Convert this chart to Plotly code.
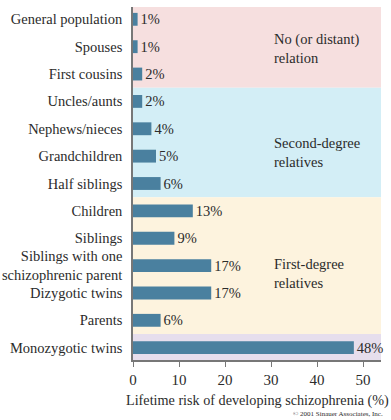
import plotly.graph_objects as go

categories = ["General population", "Spouses", "First cousins",
              "Uncles/aunts", "Nephews/nieces", "Grandchildren", "Half siblings",
              "Children", "Siblings", "Siblings with one<br>schizophrenic parent",
              "Dizygotic twins", "Parents", "Monozygotic twins"]
risk = [1, 1, 2, 2, 4, 5, 6, 13, 9, 17, 17, 6, 48]
labels = [f"{v}%" for v in risk]
group_names = ["No (or distant)<br>relation", "Second-degree<br>relatives", "First-degree<br>relatives"]
group_bounds = [(-0.45, 2.5), (2.5, 6.5), (6.5, 11.5), (11.5, 12.45)]
group_colors = ["#f6dfdf", "#d3eef6", "#fdf3de", "#e6deed"]
group_label_pos = [1.05, 4.85, 9.3]
x_ticks = [0, 10, 20, 30, 40, 50]

FONT = "Liberation Serif"
BAR = "#4a809f"
TXT = "#2b2b2b"

fig = go.Figure()
fig.add_trace(go.Bar(
    y=categories, x=risk, orientation="h",
    marker=dict(color=BAR, line=dict(width=0)),
    width=0.47,
    text=labels, textposition="outside", cliponaxis=False, constraintext="none",
    textfont=dict(family=FONT, size=14.5, color=TXT),
    hoverinfo="skip",
))

shapes = []
for (y0, y1), c in zip(group_bounds, group_colors):
    shapes.append(dict(type="rect", xref="paper", yref="y", x0=0, x1=1,
                       y0=y0, y1=y1, fillcolor=c, line=dict(width=0), layer="below"))

annotations = []
for name, yp in zip(group_names, group_label_pos):
    annotations.append(dict(text=name, xref="x", yref="y", x=30.3, y=yp,
                            xanchor="left", yanchor="middle", align="left",
                            showarrow=False,
                            font=dict(family=FONT, size=14.5, color=TXT)))
annotations.append(dict(text="Lifetime risk of developing schizophrenia (%)",
                        xref="paper", yref="paper", x=0.5, y=-0.085,
                        xanchor="center", yanchor="top", showarrow=False,
                        font=dict(family=FONT, size=14.2, color=TXT)))
annotations.append(dict(text="© 2001 Sinauer Associates, Inc.", xref="paper", yref="paper",
                        x=1.015, y=-0.135, xanchor="right", yanchor="top", showarrow=False,
                        font=dict(family=FONT, size=7, color=TXT)))

fig.update_layout(
    width=391, height=420,
    margin=dict(l=133, r=10, t=7, b=60),
    paper_bgcolor="white", plot_bgcolor="white",
    showlegend=False, shapes=shapes, annotations=annotations,
    font=dict(family=FONT, size=14, color=TXT),
)
fig.update_xaxes(range=[0, 53.9], tickvals=x_ticks, ticks="outside", ticklen=5,
                 tickcolor="#777", showline=True, linecolor="#777", linewidth=1.5,
                 showgrid=False, zeroline=False, automargin=False,
                 tickfont=dict(family=FONT, size=15, color=TXT))
fig.update_yaxes(categoryorder="array", categoryarray=categories,
                 range=[12.45, -0.45], showline=True, linecolor="#777", linewidth=1.5,
                 showgrid=False, zeroline=False, ticks="", ticklabelstandoff=6,
                 automargin=False,
                 tickfont=dict(family=FONT, size=14.5, color=TXT))

fig.write_html("out.html", config={"displayModeBar": False},
               post_script="document.body.style.margin='0';document.body.style.overflow='hidden';")
